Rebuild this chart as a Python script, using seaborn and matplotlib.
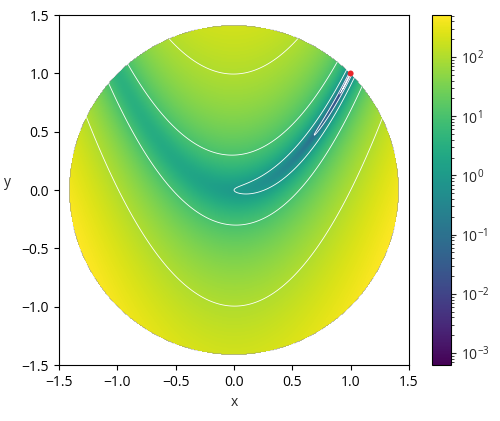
import numpy as np
import matplotlib
matplotlib.use("Agg")
import matplotlib.pyplot as plt
import seaborn as sns
from matplotlib.colors import LogNorm

# grid over the plotting window (401 x 401 samples)
x_vals = np.linspace(-1.5, 1.5, 401)
y_vals = np.linspace(-1.5, 1.5, 401)
disk_radius_sq = 2.0

# contour levels drawn in white
contour_levels = [1e-3, 1e-2, 1e-1, 1e0, 1e1, 1e2]

# the minimum of the function
min_x = [1.0]
min_y = [1.0]

sns.set_style("ticks")
plt.rcParams['font.family'] = ['Open Sans', 'DejaVu Sans']
plt.rcParams['axes.unicode_minus'] = True

X, Y = np.meshgrid(x_vals, y_vals)
Z = (1 - X) ** 2 + 100 * (Y - X ** 2) ** 2
Z = np.where(X ** 2 + Y ** 2 <= disk_radius_sq, Z, np.nan)

fig = plt.figure(figsize=(5, 4.21), dpi=100)
ax = fig.add_axes([0.118, 0.133, 0.70, 0.831])
cax = fig.add_axes([0.864, 0.133, 0.038, 0.831])

img = ax.imshow(Z, origin="lower", extent=[-1.5, 1.5, -1.5, 1.5],
                norm=LogNorm(vmin=np.nanmin(Z), vmax=np.nanmax(Z)),
                cmap="viridis", aspect="auto")
ax.contour(X, Y, Z, levels=contour_levels, colors="white", linewidths=0.6)
sns.scatterplot(x=min_x, y=min_y, color="#e8262b", s=18, edgecolor="none",
                zorder=5, ax=ax, legend=False)

ax.set_xlim(-1.5, 1.5)
ax.set_ylim(-1.5, 1.5)
ax.set_xticks([-1.5, -1.0, -0.5, 0.0, 0.5, 1.0, 1.5])
ax.set_yticks([-1.5, -1.0, -0.5, 0.0, 0.5, 1.0, 1.5])
ax.set_xlabel("x")
ax.set_ylabel("y", rotation=0, labelpad=10)
for s in ax.spines.values():
    s.set_color("black")
    s.set_linewidth(0.8)
ax.tick_params(colors="black", width=0.8)

cb = fig.colorbar(img, cax=cax)
cb.outline.set_edgecolor("black")
cb.outline.set_linewidth(0.8)

fig.savefig("out.png", dpi=100)
